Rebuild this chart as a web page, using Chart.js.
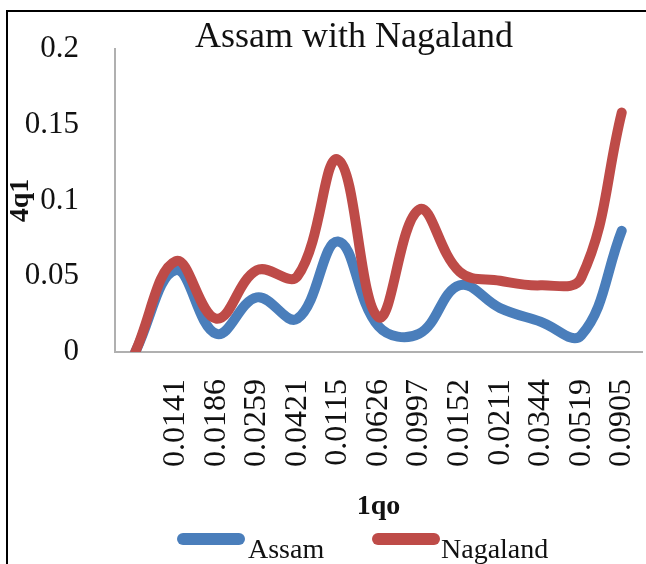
<!DOCTYPE html>
<html>
<head>
<meta charset="utf-8">
<script src="https://cdn.jsdelivr.net/npm/chart.js@4.4.1/dist/chart.umd.min.js"></script>
<style>
  html, body { margin: 0; padding: 0; background: #fff; overflow: hidden; }
  #wrap { position: relative; width: 646px; height: 564px; overflow: hidden; }
  #frame { position: absolute; left: 6px; top: 10px; width: 700px; height: 700px;
           border-left: 2px solid #000; border-top: 2px solid #000; }
  canvas { position: absolute; left: 0; top: 0; }
  #title { position: absolute; left: 354px; top: 17px; transform: translateX(-50%);
           font: 36px/36px "Liberation Serif", serif; color: #111; white-space: nowrap; }
  .lg-mark { position: absolute; height: 12px; width: 68px; border-radius: 6px; }
  .lg-text { position: absolute; font: 28px/28px "Liberation Serif", serif; color: #111; white-space: nowrap; }
</style>
</head>
<body>
<div id="wrap">
  <div id="frame"></div>
  <canvas id="chart" width="646" height="564"></canvas>
  <div id="title">Assam with Nagaland</div>
  <div class="lg-mark" style="left:177px; top:533px; background:#4a7ebb"></div>
  <div class="lg-text" style="left:248px; top:535px">Assam</div>
  <div class="lg-mark" style="left:372px; top:533px; background:#be4b48"></div>
  <div class="lg-text" style="left:441px; top:535px">Nagaland</div>
</div>
<script>
// first category is the unlabelled start point
const xLabels = ['', '0.0141', '0.0186', '0.0259', '0.0421', '0.0115', '0.0626',
                 '0.0997', '0.0152', '0.0211', '0.0344', '0.0519', '0.0905']
const assam    = [0, 0.054, 0.012, 0.036, 0.022, 0.073, 0.017, 0.012, 0.044, 0.029, 0.020, 0.011, 0.080]
const nagaland = [0, 0.060, 0.022, 0.054, 0.050, 0.127, 0.023, 0.094, 0.053, 0.047, 0.044, 0.049, 0.158]
const yTicks = ['0', '0.05', '0.1', '0.15', '0.2']

const serif = '"Liberation Serif", "Times New Roman", serif'

const ctx = document.getElementById('chart').getContext('2d')
new Chart(ctx, {
    type: 'line',
    data: {
        labels: xLabels,
        datasets: [
            {
                label: 'Assam',
                data: assam,
                borderColor: '#4a7ebb',
                backgroundColor: '#4a7ebb',
                borderWidth: 10,
                borderCapStyle: 'round',
                borderJoinStyle: 'round',
                pointRadius: 0,
                tension: 0.4,
                order: 1
            },
            {
                label: 'Nagaland',
                data: nagaland,
                borderColor: '#be4b48',
                backgroundColor: '#be4b48',
                borderWidth: 10,
                borderCapStyle: 'round',
                borderJoinStyle: 'round',
                pointRadius: 0,
                tension: 0.4,
                order: 0
            }
        ]
    },
    options: {
        responsive: false,
        animation: false,
        layout: { padding: { top: 49, right: 4, bottom: 0, left: 0 } },
        scales: {
            x: {
                type: 'category',
                offset: true,
                grid: { display: false },
                border: { display: true, color: '#b0b0b0', width: 2 },
                ticks: {
                    autoSkip: false,
                    maxRotation: 90,
                    minRotation: 90,
                    padding: 19,
                    color: '#111',
                    font: { family: serif, size: 32 }
                },
                title: {
                    display: true,
                    text: '1qo',
                    color: '#111',
                    font: { family: serif, size: 28, weight: 'bold' },
                    padding: { top: 0, bottom: 40 }
                },
                afterFit(scale) {
                    scale.height = 212
                    scale.paddingLeft = 0
                    scale.paddingRight = 0
                }
            },
            y: {
                min: 0,
                max: 0.2,
                grid: { display: false },
                border: { display: true, color: '#b0b0b0', width: 2 },
                ticks: {
                    stepSize: 0.05,
                    padding: 28,
                    color: '#111',
                    font: { family: serif, size: 31 },
                    callback: (v, i) => yTicks[i]
                },
                title: {
                    display: true,
                    text: '4q1',
                    color: '#111',
                    font: { family: serif, size: 28, weight: 'bold' },
                    padding: { top: 4, bottom: 0 }
                },
                afterFit(scale) { scale.width = 115 }
            }
        },
        plugins: {
            legend: { display: false },
            title: { display: false },
            tooltip: { enabled: false }
        }
    }
})
</script>
</body>
</html>
